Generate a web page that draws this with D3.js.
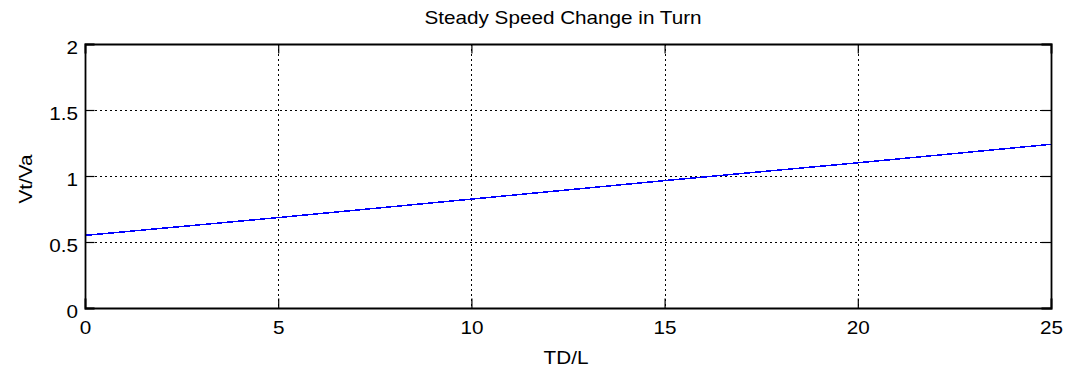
<!DOCTYPE html>
<html>
<head>
<meta charset="utf-8">
<script src="https://cdn.jsdelivr.net/npm/d3@7"></script>
<style>
  html, body { margin: 0; padding: 0; background: #fff; }
  svg { display: block; font-family: "Liberation Sans", Arial, sans-serif; }
</style>
</head>
<body>
<svg id="chart" width="1068" height="370"></svg>
<script>
// Turn distance over length vs. speed ratio
const tdl = [0, 5, 10, 15, 20, 25];
const speedRatio = [0.55, 0.685, 0.825, 0.965, 1.10, 1.24];
const xTicks = [0, 5, 10, 15, 20, 25];
const yTicks = [0, 0.5, 1, 1.5, 2];

const W = 1068, H = 370;
const m = { left: 85, right: 17, top: 44, bottom: 62 };
const iw = W - m.left - m.right, ih = H - m.top - m.bottom;

const FS = 18;      // text size
const SX = 1.15;    // wide glyph rendering

const svg = d3.select("#chart");
const g = svg.append("g").attr("transform", `translate(${m.left},${m.top})`);

const x = d3.scaleLinear().domain([0, 25]).range([0, iw]);
const y = d3.scaleLinear().domain([0, 2]).range([ih, 0]);

// dotted grid
g.append("g").selectAll("line").data(xTicks.slice(1, -1)).join("line")
  .attr("x1", d => Math.round(x(d)) + 0.5).attr("x2", d => Math.round(x(d)) + 0.5)
  .attr("y1", 0).attr("y2", ih)
  .attr("stroke", "#000").attr("stroke-width", 1).attr("stroke-dasharray", "2,3");
g.append("g").selectAll("line").data(yTicks.slice(1, -1)).join("line")
  .attr("y1", d => Math.round(y(d)) + 0.5).attr("y2", d => Math.round(y(d)) + 0.5)
  .attr("x1", 0).attr("x2", iw)
  .attr("stroke", "#000").attr("stroke-width", 1).attr("stroke-dasharray", "2,3");

// data line
const line = d3.line().x((d, i) => x(tdl[i])).y(d => y(d));
g.append("path").datum(speedRatio)
  .attr("d", line)
  .attr("fill", "none").attr("stroke", "#0000ff").attr("stroke-width", 1.5)
  .attr("shape-rendering", "crispEdges");

// axes with inward ticks on all four sides
const tl = 9.5;
const fmt = d3.format("");
const axB = g.append("g").attr("transform", `translate(0,${ih})`)
  .call(d3.axisBottom(x).tickValues(xTicks).tickSize(-tl).tickPadding(13).tickFormat(fmt));
const axT = g.append("g")
  .call(d3.axisTop(x).tickValues(xTicks).tickSize(-tl).tickFormat(""));
const axL = g.append("g")
  .call(d3.axisLeft(y).tickValues(yTicks).tickSize(-tl).tickPadding(7).tickFormat(fmt));
const axR = g.append("g").attr("transform", `translate(${iw},0)`)
  .call(d3.axisRight(y).tickValues(yTicks).tickSize(-tl).tickFormat(""));

[axB, axT, axL, axR].forEach(a => {
  a.attr("font-size", null).attr("font-family", null);
  a.select(".domain").attr("stroke", "#000").attr("stroke-width", 1.8);
  a.selectAll(".tick line").attr("stroke", "#000").attr("stroke-width", 1.2);
  a.selectAll("text").attr("fill", "#000").attr("font-size", FS);
});
// stretch tick labels horizontally about their anchor
axL.selectAll("text").attr("x", -7 / SX).attr("dy", "0.5em").attr("transform", `scale(${SX},1)`);
axB.selectAll("text").attr("transform", `scale(${SX},1)`);

// labels
svg.append("text").attr("transform", `translate(${m.left + iw / 2 - 5},24) scale(${SX},1)`)
  .attr("text-anchor", "middle").attr("font-size", FS).text("Steady Speed Change in Turn");
svg.append("text").attr("transform", `translate(${m.left + iw / 2 - 2},364) scale(${SX},1)`)
  .attr("text-anchor", "middle").attr("font-size", FS).text("TD/L");
svg.append("text").attr("transform", `translate(32,${m.top + ih / 2 + 3}) rotate(-90) scale(${SX},1)`)
  .attr("text-anchor", "middle").attr("font-size", FS).text("Vt/Va");
</script>
</body>
</html>
